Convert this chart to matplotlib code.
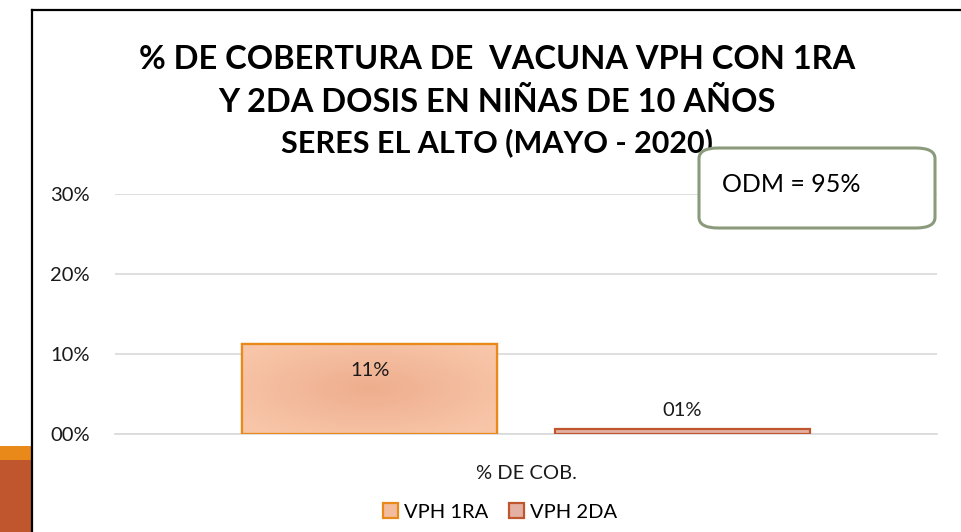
import numpy as np
import matplotlib.pyplot as plt
from matplotlib.patches import Rectangle, FancyBboxPatch, Patch
from matplotlib.lines import Line2D
from matplotlib.colors import LinearSegmentedColormap

plt.rcParams['font.family'] = ['Lato', 'DejaVu Sans']

series = ['VPH 1RA', 'VPH 2DA']
values = [0.113, 0.006]
category = '% DE COB.'
yticks = [0.0, 0.10, 0.20, 0.30]
face_colors = ['#F4BC9E', '#E4B0A3']
edge_colors = ['#E8891A', '#C0562E']

W, H = 962, 532
fig = plt.figure(figsize=(W / 100, H / 100), dpi=100)

def fx(px):
    return px / W

def fy(py):
    return 1 - py / H

# slide decoration on the left
fig.add_artist(Rectangle((0, fy(460)), fx(31), fy(446) - fy(460), transform=fig.transFigure,
                         facecolor='#E8891A', edgecolor='none'))
fig.add_artist(Rectangle((0, 0), fx(31), fy(460), transform=fig.transFigure,
                         facecolor='#C0562E', edgecolor='none'))
# chart frame (left and top edges visible)
fig.add_artist(Line2D([fx(32), fx(32)], [0, fy(10)], transform=fig.transFigure, color='black', lw=1.6))
fig.add_artist(Line2D([fx(32), 1], [fy(10), fy(10)], transform=fig.transFigure, color='black', lw=1.6))

ax = fig.add_axes([fx(115), fy(434), fx(937) - fx(115), fy(194) - fy(434)])

w = 0.31
offsets = [-0.19, 0.19]
bars = []
for i in range(len(series)):
    b = ax.bar(offsets[i], values[i], width=w, color=face_colors[i], edgecolor=edge_colors[i],
               linewidth=1.6, zorder=3)
    bars.append(b[0])

# soft radial shading on the first bar
gx, gy = np.meshgrid(np.linspace(-1, 1, 200), np.linspace(-1, 1, 100))
r = np.clip(np.sqrt(gx ** 2 + gy ** 2) / 1.2, 0, 1)
cmap = LinearSegmentedColormap.from_list('shade', ['#EEAE8E', '#F8C5A8'])
im = ax.imshow(r, cmap=cmap, aspect='auto', zorder=3.5,
               extent=[offsets[0] - w / 2, offsets[0] + w / 2, 0, values[0]])
im.set_clip_path(bars[0])
ax.bar(offsets[0], values[0], width=w, facecolor='none', edgecolor=edge_colors[0],
       linewidth=1.6, zorder=3.6)

ax.text(offsets[0], values[0] - 0.033, f'{values[0] * 100:02.0f}%', ha='center', va='center',
        fontsize=14.5, color='#1a1a1a', zorder=4)
ax.text(offsets[1], values[1] + 0.024, f'{values[1] * 100:02.0f}%', ha='center', va='center',
        fontsize=14.5, color='#1a1a1a', zorder=4)

ax.set_xlim(-0.5, 0.5)
ax.set_ylim(0, 0.30)
ax.set_yticks(yticks)
ax.set_yticklabels([f'{t * 100:02.0f}%' for t in yticks])
ax.set_xticks([0])
ax.set_xticklabels([category])
ax.tick_params(axis='y', length=0, pad=18, labelsize=14.5, labelcolor='#1a1a1a')
ax.tick_params(axis='x', length=0, pad=22, labelsize=14.5, labelcolor='#1a1a1a')
ax.grid(axis='y', color='#d9d9d9', lw=1.2, zorder=0)
for s in ['top', 'right', 'left']:
    ax.spines[s].set_visible(False)
ax.spines['bottom'].set_color('#d9d9d9')
ax.spines['bottom'].set_linewidth(1.2)

# title
fig.text(fx(497), fy(60), '% DE COBERTURA DE  VACUNA VPH CON 1RA', ha='center', va='center',
         fontsize=23.5, fontweight='bold')
fig.text(fx(497), fy(102), 'Y 2DA DOSIS EN NIÑAS DE 10 AÑOS', ha='center', va='center',
         fontsize=23.5, fontweight='bold')
fig.text(fx(497), fy(143), 'SERES EL ALTO (MAYO - 2020)', ha='center', va='center',
         fontsize=22, fontweight='bold', zorder=1)

# ODM box
box = FancyBboxPatch((fx(699), fy(228)), fx(935) - fx(699), fy(148) - fy(228),
                     boxstyle='round,pad=0,rounding_size=0.02', transform=fig.transFigure,
                     facecolor='white', edgecolor='#8A9A7B', lw=2.2, zorder=5)
fig.add_artist(box)
fig.text(fx(722), fy(185), 'ODM = 95%', ha='left', va='center', fontsize=18, zorder=6)

handles = [Patch(facecolor=face_colors[i], edgecolor=edge_colors[i], lw=1.6, label=series[i])
           for i in range(len(series))]
fig.legend(handles=handles, loc='center', bbox_to_anchor=(fx(500), fy(512)), ncol=2,
           frameon=False, fontsize=14.5, handlelength=0.75, handleheight=0.75,
           handletextpad=0.3, columnspacing=1.0)

fig.savefig('out.png', dpi=100)
